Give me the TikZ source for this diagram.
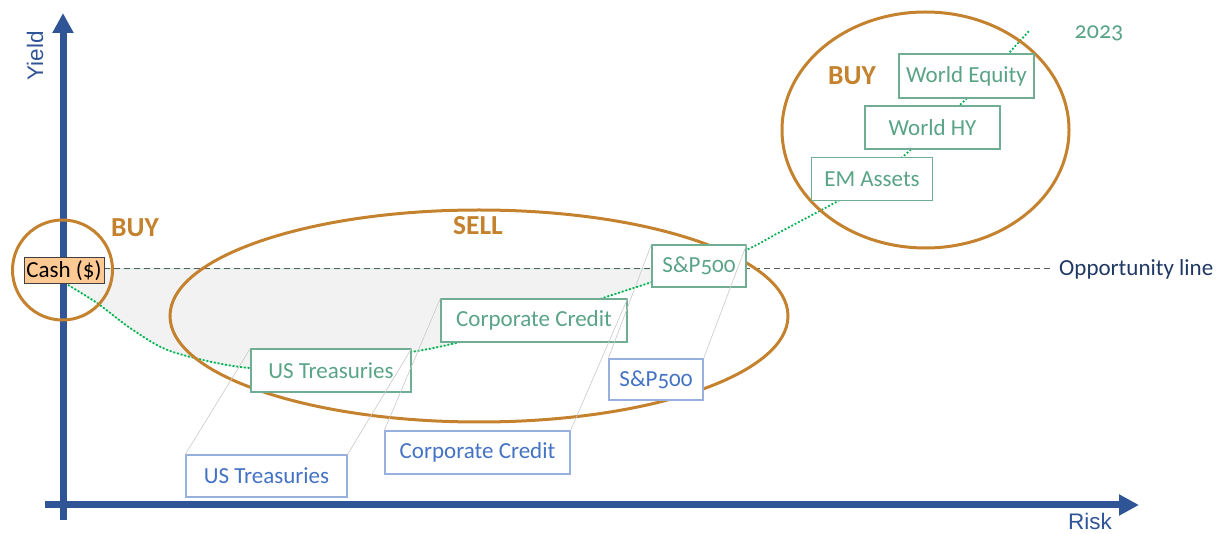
\documentclass[tikz,border=0pt]{standalone}
\usepackage{fontspec}
\setmainfont{Carlito}[Numbers=OldStyle]
\newfontfamily\axisfont{Liberation Sans}
\usetikzlibrary{arrows.meta}

\definecolor{axisblue}{HTML}{2F5597}
\definecolor{ringorange}{HTML}{C4822F}
\definecolor{boxgreen}{HTML}{6FAE93}
\definecolor{textgreen}{HTML}{5AA486}
\definecolor{boxblue}{HTML}{97B0DE}
\definecolor{textblue}{HTML}{4472C4}
\definecolor{trailgreen}{HTML}{00B050}
\definecolor{ghostgray}{HTML}{C8C8C8}
\definecolor{cashfill}{HTML}{FFC993}
\definecolor{navy}{HTML}{1F3864}

\begin{document}
\begin{tikzpicture}[x=1pt,y=-1pt,
    axis/.style={draw=axisblue, line width=7pt, -{Triangle[length=20pt,width=20pt]}},
    axislabel/.style={text=axisblue, font=\axisfont\fontsize{22.5}{26}\selectfont},
    ring/.style={draw=ringorange, line width=3pt},
    tag/.style={text=ringorange, font=\bfseries\fontsize{27.5}{30}\selectfont},
    boxtext/.style={fill=white, inner sep=0pt, line width=1.3pt, font=\fontsize{23}{26}\selectfont},
    greenbox/.style={boxtext, draw=boxgreen, text=textgreen},
    bluebox/.style={boxtext, draw=boxblue, text=textblue},
    ghost/.style={draw=ghostgray, line width=0.6pt},
    trail/.style={draw=trailgreen, line width=1.8pt, dotted},
    opline/.style={draw=black!65, line width=1pt, dash pattern=on 6pt off 4pt}]
  \useasboundingbox (0,0) rectangle (1219,534);

  % points the yield curve runs through
  \def\trailpts{(68,285) (97,303) (133,330) (173,352) (250,368) (330,362) (411,352) (460,342) (534,322) (597,300) (652,282) (699,266) (746,250) (780,232) (838,201) (872,180) (906,154) (932,128) (962,103) (986,78) (1008,54) (1029,31)}

  % shaded gap under the opportunity line
  \begin{scope}
    \clip (68,269) rectangle (652,534);
    \fill[black!5, draw=trailgreen!25, line width=1pt] plot[smooth, tension=0.5] coordinates {\trailpts} -- (1029,269) -- (68,269) -- cycle;
  \end{scope}

  % axes
  \draw[axis] (63,520) -- (63,13);
  \draw[axis] (45,505) -- (1139,505);
  \node[axislabel, rotate=90] (yield) at (35,56) {Yield};
  \node[axislabel] (risk) at (1090,521) {Risk};

  % opportunity line
  \node[anchor=west, text=navy, inner sep=0pt, font=\fontsize{23}{26}\selectfont] (opp) at (1059,269) {Opportunity line};
  \coordinate (oppstart) at (104,269);
  \draw[opline, shorten >=8pt] (oppstart) -- (opp.west);

  % yield curve
  \draw[trail] plot[smooth, tension=0.5] coordinates {\trailpts};

  % buy / sell zones
  \draw[ring] (62.5,270) circle [radius=50pt];
  \draw[ring] (479,316) ellipse [x radius=309pt, y radius=106pt];
  \draw[ring] (925.5,130) ellipse [x radius=143.5pt, y radius=118pt];
  \node[tag] (buyleft) at (135,228) {BUY};
  \node[tag] (sell) at (478,226) {SELL};
  \node[tag] (buyright) at (852,76) {BUY};

  % current positions and where they slide to
  \node[greenbox, minimum width=160pt, minimum height=43pt] (tGreen) at (331,370.5) {US Treasuries};
  \node[greenbox, minimum width=186pt, minimum height=43pt] (cGreen) at (534,320.5) {Corporate Credit};
  \node[greenbox, minimum width=94pt, minimum height=42pt] (sGreen) at (699,266) {S\&P500};
  \node[bluebox, minimum width=161pt, minimum height=42pt] (tBlue) at (266.5,476) {US Treasuries};
  \node[bluebox, minimum width=185pt, minimum height=43pt] (cBlue) at (477.5,452.5) {Corporate Credit};
  \node[bluebox, minimum width=94pt, minimum height=41pt] (sBlue) at (656,379.5) {S\&P500};

  \foreach \a/\b in {tGreen/tBlue, cGreen/cBlue, sGreen/sBlue} {
    \draw[ghost] (\a.north west) -- (\b.north west);
    \draw[ghost] (\a.north east) -- (\b.north east);
  }

  \node[greenbox, minimum width=121pt, minimum height=43pt] (em) at (872,179) {EM Assets};
  \node[greenbox, minimum width=135pt, minimum height=43pt] (hy) at (932.5,127.5) {World HY};
  \node[greenbox, minimum width=135pt, minimum height=44pt] (eq) at (966.5,76) {World Equity};
  \node[text=textgreen, font=\fontsize{24}{26}\selectfont] (year) at (1099,33) {2023};

  % cash
  \node[draw=black!75, fill=cashfill, line width=1pt, inner sep=0pt, minimum width=80pt, minimum height=26pt, font=\fontsize{23}{26}\selectfont] (cash) at (64,271) {Cash (\$)};
\end{tikzpicture}
\end{document}
